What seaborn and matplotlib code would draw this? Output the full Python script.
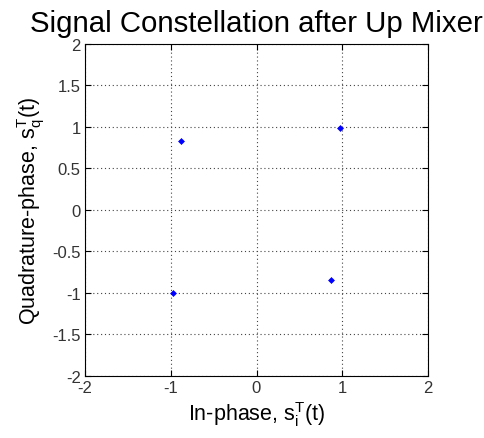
import matplotlib
matplotlib.use("Agg")
import matplotlib.pyplot as plt
import seaborn as sns
import pandas as pd

# Data
in_phase = [-0.97, -0.88, 0.97, 0.87]
quadrature = [-1.00, 0.83, 0.98, -0.85]
ticks_x = [-2, -1, 0, 1, 2]
ticks_y = [-2, -1.5, -1, -0.5, 0, 0.5, 1, 1.5, 2]
tick_labels_y = ["-2", "-1.5", "-1", "-0.5", "0", "0.5", "1", "1.5", "2"]

sns.set_theme(style="white")
plt.rcParams['font.family'] = ['Liberation Sans', 'DejaVu Sans']
plt.rcParams['mathtext.fontset'] = 'custom'
plt.rcParams['mathtext.rm'] = 'Liberation Sans'
plt.rcParams['mathtext.it'] = 'Liberation Sans'
plt.rcParams['text.color'] = 'black'
plt.rcParams['axes.labelcolor'] = 'black'

df = pd.DataFrame({"I": in_phase, "Q": quadrature})

fig = plt.figure(figsize=(4.84, 4.39), dpi=100)
ax = fig.add_axes([85/484, 1 - 377/439, (428-85)/484, (377-44.5)/439])

sns.scatterplot(data=df, x="I", y="Q", ax=ax, color="#0000ff", marker="D",
                s=9, edgecolor="#0000ff", linewidth=0.5, zorder=3)

ax.set_xlim(-2, 2)
ax.set_ylim(-2, 2)
ax.set_xticks(ticks_x)
ax.set_xticklabels([str(t) for t in ticks_x])
ax.set_yticks(ticks_y)
ax.set_yticklabels(tick_labels_y)
ax.grid(True, linestyle=(0, (1, 2.5)), color="#444444", linewidth=0.8)
ax.tick_params(direction="in", length=4, width=0.8, colors="black",
               labelsize=12, top=True, right=True, bottom=True, left=True, pad=3)
for lab in ax.get_xticklabels() + ax.get_yticklabels():
    lab.set_color("#333333")
for s in ax.spines.values():
    s.set_color("black")
    s.set_linewidth(0.8)

ax.set_xlabel(r"In-phase, s$_\mathregular{i}^\mathregular{T}$(t)", fontsize=15.5,
              labelpad=3, color="black")
ax.set_ylabel(r"Quadrature-phase, s$_\mathregular{q}^\mathregular{T}$(t)", fontsize=15.5,
              labelpad=4, color="black")
ax.set_title("Signal Constellation after Up Mixer", fontsize=21.2, pad=9, color="black")

fig.savefig("out.png", dpi=100)
